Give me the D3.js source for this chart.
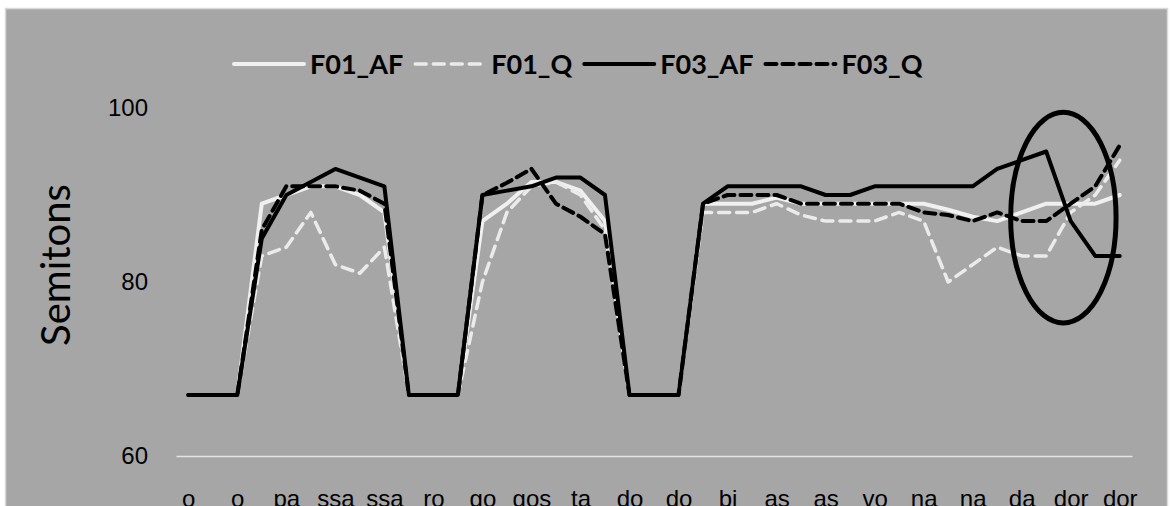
<!DOCTYPE html>
<html>
<head>
<meta charset="utf-8">
<script src="https://cdn.jsdelivr.net/npm/d3@7"></script>
<style>
  html, body { margin: 0; padding: 0; background: #ffffff; }
  svg { display: block; font-family: Lato, "Noto Sans", sans-serif; }
</style>
</head>
<body>
<div id="chart"></div>
<script>
// Data
const tickLabels = ["o", "o", "pa", "ssa", "ssa", "ro", "go", "gos", "ta", "do",
    "do", "bi", "as", "as", "vo", "na", "na", "da", "dor", "dor"];
const seriesNames = ["F01_AF", "F01_Q", "F03_AF", "F03_Q"];
const yTicks = [60, 80, 100];

const f01AF = [67, 67, 67, 89, 90, 91, 91, 90, 88, 67, 67, 67, 87, 89, 91.5, 91.5, 90.5, 87, 67, 67,
    67, 89, 89, 89, 89.7, 89, 89, 89, 89, 89, 89, 88.3, 87.5, 87, 88, 89, 89, 89, 90];
const f01Q = [67, 67, 67, 83, 84, 88, 82, 81, 84, 67, 67, 67, 80, 88, 91, 91.5, 90, 86, 67, 67,
    67, 88, 88, 88, 89, 87.7, 87, 87, 87, 88, 87, 80, 82, 84, 83, 83, 88, 90, 94];
const f03AF = [67, 67, 67, 85, 90, 91.5, 93, 92, 91, 67, 67, 67, 90, 90.5, 91, 92, 92, 90, 67, 67,
    67, 89, 91, 91, 91, 91, 90, 90, 91, 91, 91, 91, 91, 93, 94, 95, 87, 83, 83];
const f03Q = [67, 67, 67, 86, 91, 91, 91, 90.5, 89, 67, 67, 67, 90, 91.4, 93, 89, 87.5, 85.5, 67, 67,
    67, 89, 90, 90, 90, 89, 89, 89, 89, 89, 88, 87.7, 87, 88, 87, 87, 89, 91, 95.7];

// Styles per series (drawn in this order)
const styles = [
    { color: "#f0f0f0", dash: null, width: 4 },
    { color: "#ebebeb", dash: "11,7", width: 3.5 },
    { color: "#000000", dash: null, width: 4 },
    { color: "#000000", dash: "11,6", width: 4 }
];
const allSeries = [f01AF, f01Q, f03AF, f03Q];

const width = 1170, height = 506;
const margin = { left: 176, right: 38, top: 108, bottom: 50 };

const svg = d3.select("#chart").append("svg")
    .attr("width", width)
    .attr("height", height);

// Chart area background
svg.append("rect")
    .attr("x", 5.5).attr("y", 8.5)
    .attr("width", width - 8).attr("height", height + 10)
    .attr("fill", "#a6a6a6")
    .attr("stroke", "#d9d9d9")
    .attr("stroke-width", 1.5);

const x = d3.scalePoint()
    .domain(d3.range(f03AF.length))
    .range([margin.left, width - margin.right])
    .padding(0.5);

const y = d3.scaleLinear()
    .domain([60, 100])
    .range([height - margin.bottom, margin.top]);

// X axis
const xAxis = svg.append("g")
    .attr("transform", `translate(0, ${y(60)})`)
    .call(d3.axisBottom(x)
        .tickValues(x.domain().filter(i => i % 2 === 0))
        .tickFormat(i => tickLabels[i / 2])
        .tickSize(0)
        .tickSizeOuter(0));
xAxis.select(".domain").attr("stroke", "#e3e3e3").attr("stroke-width", 1.5);
xAxis.selectAll("text")
    .attr("y", 51).attr("dy", 0)
    .attr("fill", "#000")
    .style("font-size", "24px");

// Y axis
const yAxis = svg.append("g")
    .attr("transform", `translate(${margin.left}, 0)`)
    .call(d3.axisLeft(y).tickValues(yTicks).tickSize(0).tickPadding(28));
yAxis.select(".domain").remove();
yAxis.selectAll("text")
    .attr("fill", "#000")
    .style("font-size", "24px");

// Y title
svg.append("text")
    .attr("transform", "translate(70, 265) rotate(-90)")
    .attr("text-anchor", "middle")
    .style("font-size", "40px")
    .attr("fill", "#000")
    .text("Semitons");

// Lines
const line = d3.line()
    .x((d, i) => x(i))
    .y(d => y(d));

allSeries.forEach((values, s) => {
    svg.append("path")
        .datum(values)
        .attr("d", line)
        .attr("fill", "none")
        .attr("stroke", styles[s].color)
        .attr("stroke-width", styles[s].width)
        .attr("stroke-dasharray", styles[s].dash)
        .attr("stroke-linejoin", "round")
        .attr("stroke-linecap", "round");
});

// Annotation ellipse (in data coordinates)
const ellipseCenter = { i: 35.7, v: 87.4 };
svg.append("ellipse")
    .attr("cx", x(0) + ellipseCenter.i * x.step())
    .attr("cy", y(ellipseCenter.v))
    .attr("rx", 2.15 * x.step())
    .attr("ry", y(60) - y(72.1))
    .attr("fill", "none")
    .attr("stroke", "#000")
    .attr("stroke-width", 5);

// Legend
const legend = svg.append("g").attr("transform", "translate(234, 64)");
let cursor = 0;
seriesNames.forEach((name, s) => {
    const g = legend.append("g").attr("transform", `translate(${cursor}, 0)`);
    g.append("line")
        .attr("x1", 0).attr("x2", 70)
        .attr("stroke", styles[s].color)
        .attr("stroke-width", styles[s].width)
        .attr("stroke-dasharray", styles[s].dash)
        .attr("stroke-linecap", "round");
    const t = g.append("text")
        .attr("x", 76)
        .attr("dy", "0.36em")
        .style("font-size", "27px")
        .style("font-weight", 700)
        .attr("fill", "#000")
        .text(name);
    cursor += 76 + t.node().getComputedTextLength() + 12;
});
</script>
</body>
</html>
